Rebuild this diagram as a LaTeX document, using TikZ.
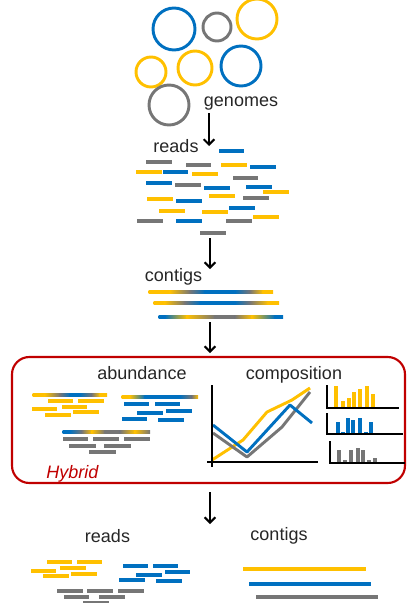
\documentclass[tikz,border=0pt]{standalone}
\usepackage{fontspec}
\setmainfont{Liberation Sans}
\usetikzlibrary{arrows.meta}
\definecolor{cb}{RGB}{0,112,192}
\definecolor{cy}{RGB}{255,192,0}
\definecolor{cg}{RGB}{118,118,118}
\definecolor{cr}{RGB}{192,0,0}
\newcommand\gline[4]{%
  \foreach \gx/\gc [remember=\gx as \gpx (initially #2), remember=\gc as \gpc (initially #3)] in {#4}
    {\shade[left color=\gpc,right color=\gc] (\gpx-0.3,#1-1.6) rectangle (\gx,#1+1.6);}}
\tikzset{
  lbl/.style={font=\fontsize{13.5}{16}\selectfont, inner sep=0pt, anchor=base, text=black!85},
  rd/.style={line width=2.6pt},
  ring/.style={line width=2.2pt},
  flow/.style={line width=1.5pt, -{Straight Barb[length=4pt,width=8pt]}},
  ax/.style={line width=2.2pt, black},
  bax/.style={line width=1.6pt, black},
  ln/.style={line width=2.2pt, line join=round},
  bar/.style={line width=2.4pt},
  ctg/.style={line width=2.4pt}
}
\begin{document}
\begin{tikzpicture}[x=0.75pt,y=-0.75pt]
\useasboundingbox (0,0) rectangle (409,603);
% genomes
\foreach \cx/\cy/\r/\c in {174/29/21/cb, 217/27/14/cg, 257/19/20/cy, 151/72/15/cy, 195/68/17/cy, 241/66/20/cb, 169/105/20/cg}
  \draw[ring,\c] (\cx,\cy) circle[radius={0.75pt*\r}];
\node[lbl] (genomes) at (241,106) {genomes};
\coordinate (a1s) at (209,113);
\coordinate (a1e) at (209,146);
\draw[flow] (a1s) -- (a1e);
% reads
\node[lbl] (reads) at (176,152.5) {reads};
\foreach \xa/\xb/\yy/\c in {219/244/151/cb, 146/172/162/cg, 186/211/165/cg, 221/247/165/cy, 250/276/167/cb,
  136/162/172/cy, 163/188/172/cb, 192/218/174/cy, 233/258/178/cg, 146/172/183/cb, 175/201/185/cg,
  204/230/188/cb, 246/272/187/cb, 263/289/192/cy, 209/235/196/cy, 243/269/198/cg, 147/173/199/cy,
  176/202/201/cb, 229/255/208/cb, 159/185/211/cy, 202/228/212/cy, 253/279/217/cy, 137/163/221/cg,
  176/202/221/cb, 226/252/221/cg, 200/226/233/cg}
  \draw[rd,\c] (\xa,\yy) -- (\xb,\yy);
\coordinate (a2s) at (210,238);
\coordinate (a2e) at (210,269);
\draw[flow] (a2s) -- (a2e);
% contigs
\node[lbl] (contigs) at (173.5,281.5) {contigs};
\gline{292}{149}{cy}{170/cy, 190/cg, 205/cb, 235/cb, 250/cg, 263/cy, 273/cy}
\gline{303}{154}{cy}{165/cy, 185/cg, 200/cb, 235/cb, 250/cg, 268/cy, 279/cy}
\gline{317}{159}{cb}{165/cb, 187/cy, 215/cg, 235/cg, 252/cy, 275/cb, 283/cb}
\coordinate (a3s) at (210,322);
\coordinate (a3e) at (210,353);
\draw[flow] (a3s) -- (a3e);
% hybrid box
\draw[cr, line width=1.6pt, rounded corners=13pt] (12,357) rectangle (405,483);
\node[lbl] (abund) at (142,379) {abundance};
\node[lbl] (comp) at (294,379) {composition};
\node[lbl, text=cr, font=\fontsize{13.5}{16}\selectfont\itshape] (hyb) at (72.5,478) {Hybrid};
% abundance groups
\gline{395}{33}{cy}{45/cy, 60/cg, 70/cb, 80/cb, 92/cg, 100/cy, 107/cy}
\gline{397}{122}{cy}{130/cy, 145/cb, 180/cb, 192/cg, 198/cy}
\gline{432}{63}{cb}{70/cb, 82/cg, 92/cy, 105/cg, 120/cg, 135/cy, 150/cg}
\foreach \xa/\xb/\yy/\c in {48/73/401/cy, 78/104/401/cy, 62/87/407/cy, 32/57/409/cy, 73/99/412/cy, 45/71/415/cy,
  124/149/404/cb, 155/180/404/cb, 166/192/411/cb, 137/163/413/cb, 122/147/419/cb, 158/184/420/cb,
  63/88/439/cg, 93/119/439/cg, 124/150/439/cg, 69/96/446/cg, 104/131/446/cg, 89/116/452/cg}
  \draw[rd,\c] (\xa,\yy) -- (\xb,\yy);
% line chart
\draw[ln,cy] (212,460) -- (243,440) -- (267,412) -- (292,400) -- (310,388);
\draw[ln,cg] (213,433) -- (247,457) -- (282,427) -- (310,392);
\draw[ln,cb] (213,425) -- (247,452) -- (290,405) -- (312,423);
\draw[ax] (212,385) -- (212,467);
\draw[ax] (207,462) -- (318,462);
% bar charts
\foreach \bx/\bt in {336/386, 343/401, 349/398, 354/392, 360/389, 367/386, 373/394}
  \draw[bar,cy] (\bx,407) -- (\bx,\bt);
\draw[bax] (327,385) -- (327,408) -- (399,408);
\foreach \bx/\bt in {338/422, 343/432, 348/418, 353/420, 360/418, 366/432, 371/422}
  \draw[bar,cb] (\bx,433) -- (\bx,\bt);
\draw[bax] (327,413) -- (327,434) -- (403,434);
\foreach \bx/\bt in {339/450, 345/460, 351/450, 358/448, 363/450, 369/460, 375/458}
  \draw[bar,cg] (\bx,462) -- (\bx,\bt);
\draw[bax] (330,441) -- (330,463) -- (405,463);
% final arrow
\coordinate (a4s) at (210,492);
\coordinate (a4e) at (210,524);
\draw[flow] (a4s) -- (a4e);
\node[lbl] (reads2) at (107.5,542.5) {reads};
\node[lbl] (contigs2) at (279,540.5) {contigs};
\foreach \xa/\xb/\yy/\c in {47/72/562/cy, 77/102/562/cy, 60/86/568/cy, 31/56/571/cy, 71/97/574/cy, 43/69/576/cy,
  123/148/566/cb, 153/178/566/cb, 165/190/572/cb, 136/162/575/cb, 119/145/580/cb, 156/182/581/cb,
  57/83/591/cg, 87/113/591/cg, 118/144/591/cg, 64/89/597/cg, 99/125/597/cg, 83/109/603/cg}
  \draw[rd,\c] (\xa,\yy) -- (\xb,\yy);
\draw[ctg,cy] (243,569) -- (366,569);
\draw[ctg,cb] (249,584) -- (371,584);
\draw[ctg,cg] (256,597) -- (378,597);
\end{tikzpicture}
\end{document}
